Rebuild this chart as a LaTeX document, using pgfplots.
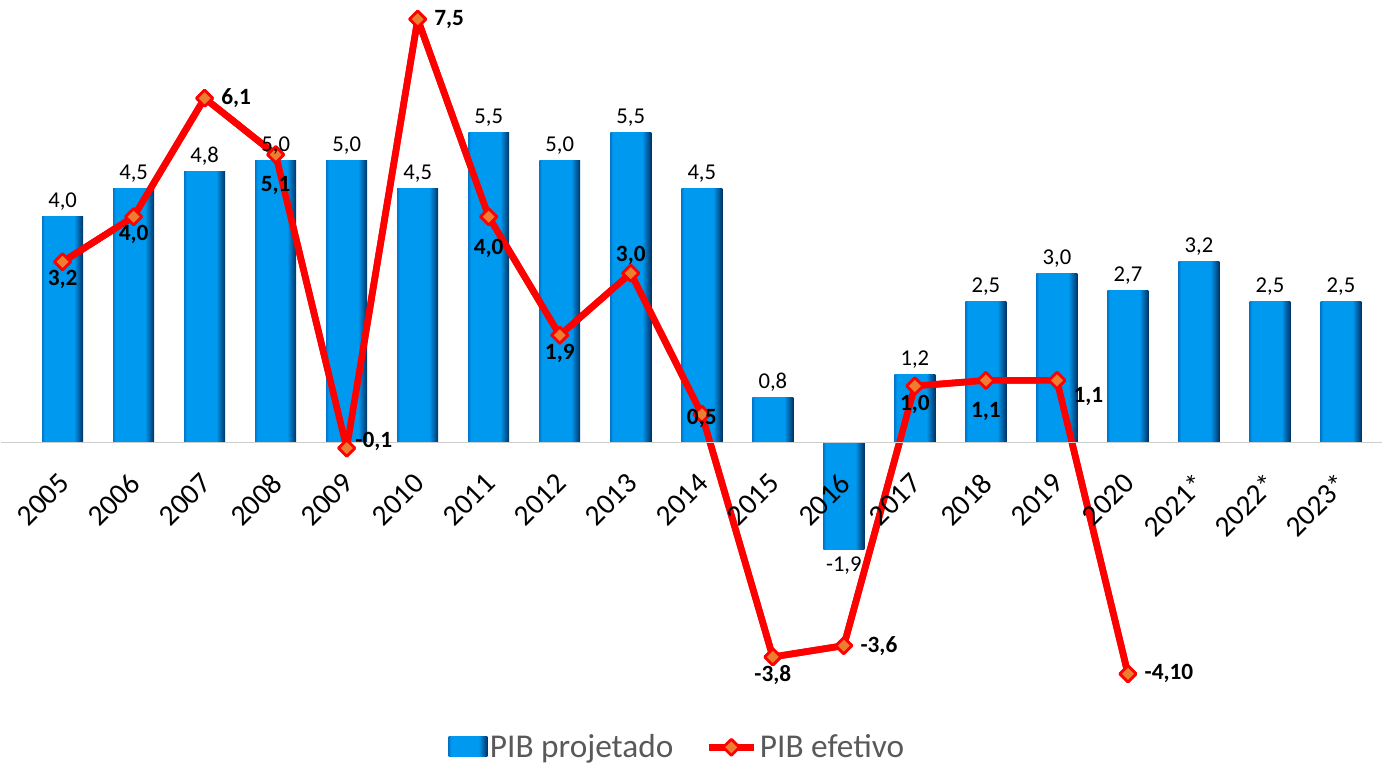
\documentclass[border=0pt]{standalone}
\usepackage{pgfplots}
\pgfplotsset{compat=1.18}
\usepackage{fontspec}
\setmainfont{Carlito}
\definecolor{barmid}{RGB}{0,153,240}
\definecolor{barleft}{RGB}{0,120,205}
\definecolor{barright}{RGB}{0,50,100}
\definecolor{lred}{RGB}{255,0,0}
\definecolor{mfill}{RGB}{237,125,49}
\definecolor{lgray}{RGB}{89,89,89}
\definecolor{zline}{RGB}{205,205,205}
\pgfdeclarehorizontalshading{barshade}{100bp}{color(0bp)=(barleft); color(25bp)=(barleft); color(28bp)=(barmid); color(64bp)=(barmid); color(75bp)=(barright); color(100bp)=(barright)}
\pgfplotsset{
  mybar/.style={ybar, bar width=30.75pt, bar shift=0pt, draw=none, shading=barshade, shading angle=0, forget plot},
  lbl/.style={draw=none, mark=none, forget plot, nodes near coords, point meta=explicit symbolic},
  barlegend/.style={legend image code/.code={\fill[shading=barshade, shading angle=0] (0pt,-7pt) rectangle (29pt,8pt);}},
  linelegend/.style={legend image code/.code={\draw[##1, mark repeat=2, mark phase=2] plot coordinates {(0pt,0pt) (17pt,0pt) (34pt,0pt)};}},
}
\begin{document}
\begin{tikzpicture}
\begin{axis}[
  scale only axis,
  width=1037.25pt, height=547.5pt,
  xmin=-0.87, xmax=18.58,
  ymin=-5.08, ymax=7.84,
  axis on top,
  axis x line*=middle,
  axis y line=none,
  x axis line style={draw=zline, line width=1.2pt},
  xtick={0,...,18},
  xticklabels={2005,2006,2007,2008,2009,2010,2011,2012,2013,2014,2015,2016,2017,2018,2019,2020,2021*,2022*,2023*},
  major tick length=0pt,
  xticklabel style={rotate=45, anchor=east, font=\fontsize{22}{22}\selectfont, text=black, xshift=-15pt, yshift=-20pt},
  clip=false,
  legend style={at={(0.49,0)}, anchor=north, draw=none, fill=none,
    font=\fontsize{25}{25}\selectfont, text=lgray,
    /tikz/every even column/.append style={column sep=22pt}},
  legend columns=2,
  legend cell align=left,
]
\path (rel axis cs:0,0) rectangle (rel axis cs:1,1);
% legend entry for bars
\addplot[ybar, bar width=30.75pt, bar shift=0pt, draw=none, shading=barshade, shading angle=0, barlegend]
  coordinates {(0,4.0)};
\addlegendentry{PIB projetado}
% line
\addplot[lred, line width=5pt, line join=round, mark=square*, mark size=4.3pt,
  mark options={rotate=45, fill=mfill, draw=lred, line width=2pt}, linelegend]
  coordinates {(0,3.2) (1,4.0) (2,6.1) (3,5.1) (4,-0.1) (5,7.5) (6,4.0) (7,1.9) (8,3.0) (9,0.5) (10,-3.8) (11,-3.6) (12,1.0) (13,1.1) (14,1.1) (15,-4.1)};
\addlegendentry{PIB efetivo}
% remaining bars, each its own path
\addplot[mybar] coordinates {(1,4.5)};
\addplot[mybar] coordinates {(2,4.8)};
\addplot[mybar] coordinates {(3,5.0)};
\addplot[mybar] coordinates {(4,5.0)};
\addplot[mybar] coordinates {(5,4.5)};
\addplot[mybar] coordinates {(6,5.5)};
\addplot[mybar] coordinates {(7,5.0)};
\addplot[mybar] coordinates {(8,5.5)};
\addplot[mybar] coordinates {(9,4.5)};
\addplot[mybar] coordinates {(10,0.8)};
\addplot[mybar] coordinates {(11,-1.9)};
\addplot[mybar] coordinates {(12,1.2)};
\addplot[mybar] coordinates {(13,2.5)};
\addplot[mybar] coordinates {(14,3.0)};
\addplot[mybar] coordinates {(15,2.7)};
\addplot[mybar] coordinates {(16,3.2)};
\addplot[mybar] coordinates {(17,2.5)};
\addplot[mybar] coordinates {(18,2.5)};
% redraw line over bars
\addplot[lred, line width=5pt, line join=round, mark=square*, mark size=4.3pt, forget plot,
  mark options={rotate=45, fill=mfill, draw=lred, line width=2pt}]
  coordinates {(0,3.2) (1,4.0) (2,6.1) (3,5.1) (4,-0.1) (5,7.5) (6,4.0) (7,1.9) (8,3.0) (9,0.5) (10,-3.8) (11,-3.6) (12,1.0) (13,1.1) (14,1.1) (15,-4.1)};
% bar labels (positive)
\addplot[lbl, nodes near coords style={anchor=south, font=\fontsize{17}{17}\selectfont, text=black, yshift=1pt}]
  coordinates {(0,4.0)[4,0] (1,4.5)[4,5] (2,4.8)[4,8] (3,5.0)[5,0] (4,5.0)[5,0] (5,4.5)[4,5] (6,5.5)[5,5] (7,5.0)[5,0] (8,5.5)[5,5] (9,4.5)[4,5] (10,0.8)[0,8] (12,1.2)[1,2] (13,2.5)[2,5] (14,3.0)[3,0] (15,2.7)[2,7] (16,3.2)[3,2] (17,2.5)[2,5] (18,2.5)[2,5]};
% bar label (negative)
\addplot[lbl, nodes near coords style={anchor=north, font=\fontsize{17}{17}\selectfont, text=black, yshift=-2pt}]
  coordinates {(11,-1.9)[-1,9]};
% line labels below
\addplot[lbl, nodes near coords style={anchor=north, font=\bfseries\fontsize{17.5}{17.5}\selectfont, text=black, yshift=-3pt}]
  coordinates {(0,3.2)[3,2] (1,4.0)[4,0] (7,1.9)[1,9] (10,-3.8)[-3,8] (12,1.0)[1,0]};
\addplot[lbl, nodes near coords style={anchor=north, font=\bfseries\fontsize{17.5}{17.5}\selectfont, text=black, yshift=-13pt}]
  coordinates {(3,5.1)[5,1] (6,4.0)[4,0] (13,1.1)[1,1]};
% line labels right
\addplot[lbl, nodes near coords style={anchor=west, font=\bfseries\fontsize{17.5}{17.5}\selectfont, text=black, xshift=9pt}]
  coordinates {(2,6.1)[6,1] (5,7.5)[7,5] (11,-3.6)[-3,6] (15,-4.1)[-4,10]};
\addplot[lbl, nodes near coords style={anchor=west, font=\bfseries\fontsize{17.5}{17.5}\selectfont, text=black, xshift=3pt, yshift=5pt}]
  coordinates {(4,-0.1)[-0,1]};
\addplot[lbl, nodes near coords style={anchor=west, font=\bfseries\fontsize{17.5}{17.5}\selectfont, text=black, xshift=9pt, yshift=-12pt}]
  coordinates {(14,1.1)[1,1]};
% above / centered
\addplot[lbl, nodes near coords style={anchor=south, font=\bfseries\fontsize{17.5}{17.5}\selectfont, text=black, yshift=3pt}]
  coordinates {(8,3.0)[3,0]};
\addplot[lbl, nodes near coords style={anchor=center, font=\bfseries\fontsize{17.5}{17.5}\selectfont, text=black, yshift=-3pt}]
  coordinates {(9,0.5)[0,5]};
\end{axis}
\end{tikzpicture}
\end{document}
